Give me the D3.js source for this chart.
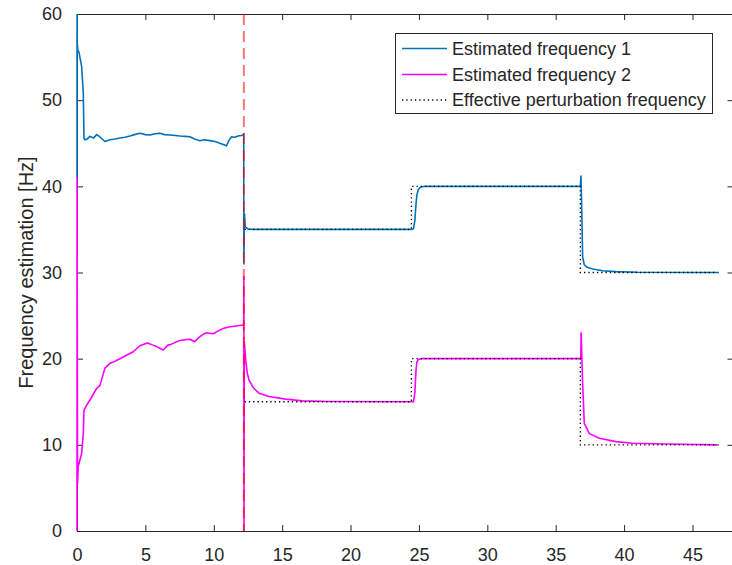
<!DOCTYPE html>
<html>
<head>
<meta charset="utf-8">
<script src="https://cdn.jsdelivr.net/npm/d3@7"></script>
<style>
  html, body { margin: 0; padding: 0; background: #fff; }
  svg { display: block; font-family: "Liberation Sans", Arial, sans-serif; }
</style>
</head>
<body>
<svg id="chart" width="732" height="565"></svg>
<script>
// ---- Data ----
const f1Time = [0, 0.005, 0.02, 0.06, 0.14, 0.34, 0.46, 0.51, 0.58, 0.75, 0.95, 1.2, 1.44, 1.7, 2.04, 2.41, 2.8, 3.14, 3.5, 3.87, 4.2, 4.6, 5.0, 5.33, 5.7, 6.06, 6.4, 6.79, 7.2, 7.52, 7.9, 8.25, 8.6, 8.98, 9.3, 9.71, 10.1, 10.44, 10.7, 10.93, 11.1, 11.3, 11.55, 11.78, 12.0, 12.15, 12.19, 12.2, 12.25, 12.3, 12.5, 12.8, 24.5, 24.6, 24.7, 24.78, 24.85, 24.95, 25.1, 25.4, 36.8, 36.85, 36.92, 36.97, 37.09, 37.3, 37.7, 38.43, 39.4, 41.0, 46.8];
const f1Value = [41, 62, 56.6, 55.8, 55.6, 53.9, 50.8, 45.6, 45.4, 45.5, 45.8, 45.6, 46.0, 45.7, 45.2, 45.4, 45.5, 45.6, 45.7, 45.84, 46.0, 46.15, 46.0, 45.96, 46.1, 46.15, 46.0, 45.96, 45.9, 45.84, 45.8, 45.76, 45.5, 45.3, 45.4, 45.3, 45.2, 45.0, 44.85, 44.7, 45.3, 45.76, 45.7, 45.84, 45.9, 45.96, 46.1, 31, 36.8, 35.3, 35.05, 35.0, 35.0, 35.1, 36.0, 37.8, 39.0, 39.6, 39.9, 40.0, 40.0, 41.2, 36.0, 31.8, 30.9, 30.6, 30.4, 30.2, 30.1, 30.03, 30.0];

const f2Time = [0, 0.005, 0.04, 0.09, 0.34, 0.46, 0.51, 0.7, 0.95, 1.2, 1.44, 1.68, 2.04, 2.41, 2.65, 3.14, 3.5, 3.87, 4.11, 4.6, 5.09, 5.21, 5.5, 5.82, 6.3, 6.67, 6.79, 7.2, 7.52, 7.9, 8.25, 8.6, 8.98, 9.2, 9.47, 9.95, 10.3, 10.68, 11.17, 11.66, 12.15, 12.19, 12.2, 12.21, 12.23, 12.34, 12.45, 12.58, 12.9, 13.31, 14.04, 15.26, 16.48, 18.5, 24.6, 24.7, 24.78, 24.85, 24.95, 25.2, 36.83, 36.86, 36.97, 37.09, 37.46, 38.19, 39.4, 40.62, 43.06, 46.8];
const f2Value = [0, 41, 5.5, 7.5, 9.0, 11.3, 14.0, 14.6, 15.2, 15.9, 16.56, 16.9, 18.9, 19.46, 19.6, 20.0, 20.3, 20.6, 20.8, 21.5, 21.8, 21.8, 21.6, 21.4, 21.0, 21.6, 21.6, 21.9, 22.1, 22.2, 22.25, 21.97, 22.55, 22.8, 23.0, 22.9, 23.2, 23.5, 23.7, 23.8, 23.9, 24.2, 29.5, 0, 22, 19.8, 18.3, 17.5, 16.6, 16.0, 15.6, 15.3, 15.1, 15.03, 15.0, 16.0, 18.5, 19.6, 19.9, 20.0, 20.0, 23.0, 17.1, 12.5, 11.3, 10.76, 10.37, 10.18, 10.1, 10.0];

const refTime = [12.25, 24.45, 24.45, 36.8, 36.8, 47.0];
const ref1Value = [35, 35, 40, 40, 30, 30];
const ref2Value = [15, 15, 20, 20, 10, 10];

const switchTime = 12.2;

const xTicks = [0, 5, 10, 15, 20, 25, 30, 35, 40, 45];
const yTicks = [0, 10, 20, 30, 40, 50, 60];
const legendLabels = ["Estimated frequency 1", "Estimated frequency 2", "Effective perturbation frequency"];
const yLabel = "Frequency estimation [Hz]";

// ---- Layout ----
const svg = d3.select("#chart");
const L = 77, R = 733.5, T = 14, B = 531;
const axisColor = "#262626";
const fontSize = 18;

const x = d3.scaleLinear().domain([0, 48]).range([L, R]);
const y = d3.scaleLinear().domain([0, 60]).range([B, T]);

svg.append("defs").append("clipPath").attr("id", "clip")
  .append("rect").attr("x", L - 2).attr("y", T).attr("width", R - L + 2).attr("height", B - T);

// ---- Axes (drawn first; data drawn on top like MATLAB) ----
function styleAxis(g) {
  g.select(".domain").attr("stroke", axisColor).attr("stroke-width", 1);
  g.selectAll(".tick line").attr("stroke", axisColor).attr("stroke-width", 1);
  g.selectAll(".tick text").attr("fill", axisColor).attr("font-size", fontSize)
    .attr("font-family", "Liberation Sans, Arial, sans-serif");
}
svg.append("g").attr("transform", `translate(0,${B})`)
  .call(d3.axisBottom(x).tickValues(xTicks).tickSize(-6).tickPadding(17).tickSizeOuter(0))
  .call(styleAxis);
svg.append("g").attr("transform", `translate(0,${T})`)
  .call(d3.axisTop(x).tickValues(xTicks).tickSize(-6).tickFormat("").tickSizeOuter(0))
  .call(styleAxis);
svg.append("g").attr("transform", `translate(${L},0)`)
  .call(d3.axisLeft(y).tickValues(yTicks).tickSize(-6).tickPadding(15).tickSizeOuter(0))
  .call(styleAxis);
svg.append("g").attr("transform", `translate(${R},0)`)
  .call(d3.axisRight(y).tickValues(yTicks).tickSize(-6).tickFormat("").tickSizeOuter(0))
  .call(styleAxis);

const plot = svg.append("g").attr("clip-path", "url(#clip)");

const zip = (ts, vs) => ts.map((t, i) => [t, vs[i]]);
const line = d3.line().x(d => x(d[0])).y(d => y(d[1]));

plot.append("path").datum(zip(f1Time, f1Value))
  .attr("d", line).attr("fill", "none").attr("stroke", "#0072BD").attr("stroke-width", 1.6)
  .attr("stroke-linejoin", "round");
plot.append("path").datum(zip(f2Time, f2Value))
  .attr("d", line).attr("fill", "none").attr("stroke", "#FF00FF").attr("stroke-width", 1.6)
  .attr("stroke-linejoin", "round");
[ref1Value, ref2Value].forEach(v => {
  plot.append("path").datum(zip(refTime, v))
    .attr("d", line).attr("fill", "none").attr("stroke", "#000").attr("stroke-width", 1.3)
    .attr("stroke-dasharray", "1.3,3");
});
plot.append("line")
  .attr("x1", x(switchTime)).attr("x2", x(switchTime))
  .attr("y1", y(60)).attr("y2", y(0))
  .attr("stroke", "red").attr("stroke-opacity", 0.55).attr("stroke-width", 2)
  .attr("stroke-dasharray", "11,6");

svg.append("text")
  .attr("transform", `translate(33,${(T + B) / 2}) rotate(-90)`)
  .attr("text-anchor", "middle").attr("fill", axisColor).attr("font-size", 20)
  .text(yLabel);

// ---- Legend ----
const lg = svg.append("g");
lg.append("rect").attr("x", 395.5).attr("y", 33.5).attr("width", 317).attr("height", 80)
  .attr("fill", "#fff").attr("stroke", axisColor).attr("stroke-width", 1);
const legendStyles = [
  { stroke: "#0072BD", dash: null, w: 1.6 },
  { stroke: "#FF00FF", dash: null, w: 1.6 },
  { stroke: "#000", dash: "1.3,3", w: 1.3 }
];
const rowY = [48.5, 74.5, 100];
legendLabels.forEach((lab, i) => {
  const s = legendStyles[i];
  const ln = lg.append("line").attr("x1", 402).attr("x2", 447).attr("y1", rowY[i]).attr("y2", rowY[i])
    .attr("stroke", s.stroke).attr("stroke-width", s.w);
  if (s.dash) ln.attr("stroke-dasharray", s.dash);
  lg.append("text").attr("x", 452).attr("y", rowY[i]).attr("dy", "0.35em")
    .attr("font-size", 18).attr("fill", axisColor).text(lab);
});
</script>
</body>
</html>
